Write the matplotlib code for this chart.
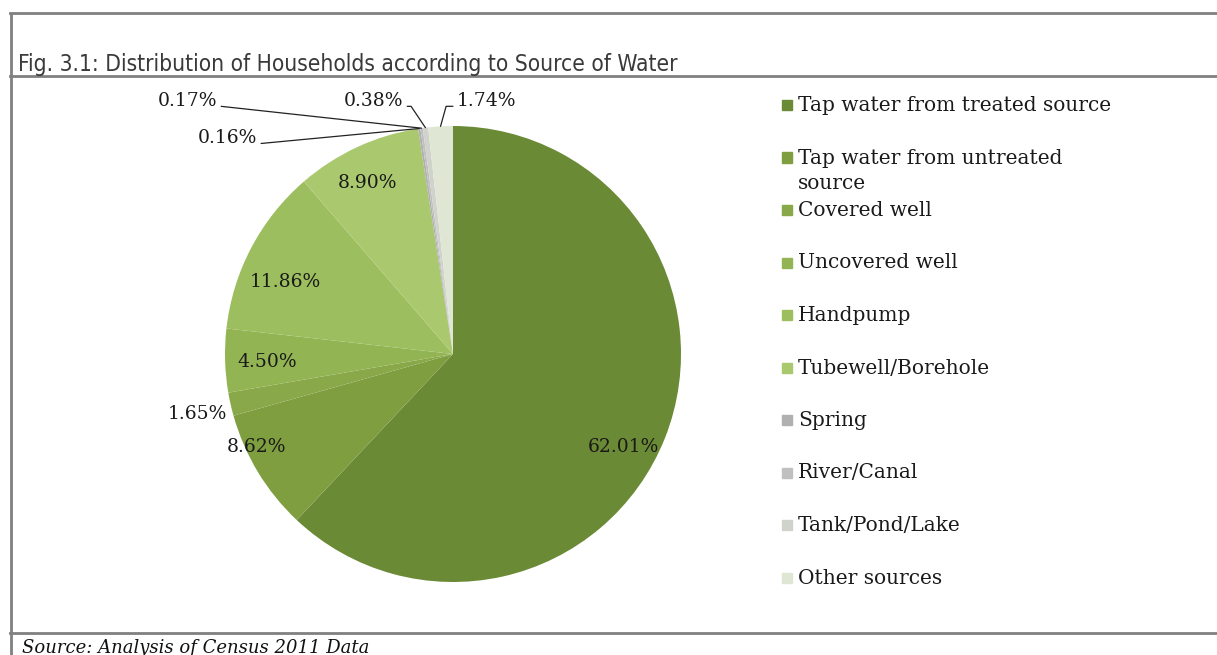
import matplotlib
matplotlib.use('Agg')
import matplotlib.pyplot as plt
from matplotlib.patches import Rectangle
from matplotlib.lines import Line2D
import numpy as np

# data
categories = ['Tap water from treated source', 'Tap water from untreated\nsource',
              'Covered well', 'Uncovered well', 'Handpump', 'Tubewell/Borehole',
              'Spring', 'River/Canal', 'Tank/Pond/Lake', 'Other sources']
shares = [62.01, 8.62, 1.65, 4.50, 11.86, 8.90, 0.16, 0.17, 0.38, 1.74]
colors = ['#6b8a35', '#7f9e40', '#88a849', '#93b453', '#9dbe5e', '#aac96f',
          '#b0b0b0', '#c0c0c0', '#d0d2cc', '#dfe6d4']

# label anchor (pie units, radius = 1), alignment and leader style
label_xy = [(0.746, -0.408), (-0.860, -0.408), (-1.123, -0.263), (-0.816, -0.035),
            (-0.737, 0.316), (-0.373, 0.75), (-0.860, 0.947), (-1.035, 1.11),
            (-0.219, 1.11), (0.018, 1.11)]
leader = [None, None, None, None, None, None, 'left', 'left', 'left', 'right']

W, H = 1217, 655
fig = plt.figure(figsize=(W / 100, H / 100), dpi=100)

serif = ['DejaVu Serif']
sans = ['DejaVu Sans']

# frame lines
grey = '#808080'
for yy in (13, 76, 633):
    fig.add_artist(Line2D([10 / W, 1], [1 - yy / H, 1 - yy / H], color=grey, lw=2))
fig.add_artist(Line2D([11 / W, 11 / W], [1 - 13 / H, 0], color=grey, lw=2,
                      solid_capstyle='butt'))

fig.text(18 / W, 1 - 71 / H, 'Fig. 3.1: Distribution of Households according to Source of Water',
         family=sans, fontstretch='condensed', fontsize=16.3, color='#3a3a3a',
         va='baseline', ha='left')
fig.text(22 / W, 1 - 639 / H, 'Source: Analysis of Census 2011 Data',
         family=serif, style='italic', fontsize=13, color='#111111', va='top', ha='left')

# pie
cx, cy, R = 453, 354, 228
ax = fig.add_axes([(cx - R) / W, 1 - (cy + R) / H, 2 * R / W, 2 * R / H])
wedges, _ = ax.pie(shares, colors=colors, startangle=90, counterclock=False,
                   wedgeprops=dict(linewidth=0))
ax.set_xlim(-1, 1)
ax.set_ylim(-1, 1)
ax.set_aspect('equal')
ax.axis('off')

lab_kw = dict(family=serif, fontsize=13.5, color='#1a1a1a')
for w, v, (lx, ly), side in zip(wedges, shares, label_xy, leader):
    txt = f'{v:.2f}%'
    if side is None:
        ax.text(lx, ly, txt, ha='center', va='center', clip_on=False, **lab_kw)
        continue
    ang = np.deg2rad((w.theta1 + w.theta2) / 2)
    px, py = np.cos(ang), np.sin(ang)
    if side == 'left':
        ha, rel, angA = 'right', (1.0, 0.2), 0
        arm = 8 if v == 0.38 else 4
    else:
        ha, rel, angA, arm = 'left', (0.0, 0.2), 180, 11
    ax.annotate(txt, xy=(px, py), xytext=(lx, ly), ha=ha, va='center',
                annotation_clip=False, **lab_kw,
                arrowprops=dict(arrowstyle='-', lw=0.9, color='#222222',
                                shrinkA=1, shrinkB=0, relpos=rel,
                                connectionstyle=f'arc,angleA={angA},angleB=90,armA={arm},armB=0,rad=0'))

# legend drawn as a column of swatches
for i, (lab, c) in enumerate(zip(categories, colors)):
    y = 105 + i * 52.5
    fig.add_artist(Rectangle((782 / W, 1 - (y + 5) / H), 10 / W, 10 / H, color=c))
    fig.text(798 / W, 1 - (y - 9) / H, lab, family=serif, fontsize=14.5,
             color='#1a1a1a', va='top', ha='left', linespacing=1.4)

fig.savefig('out.png', dpi=100)
